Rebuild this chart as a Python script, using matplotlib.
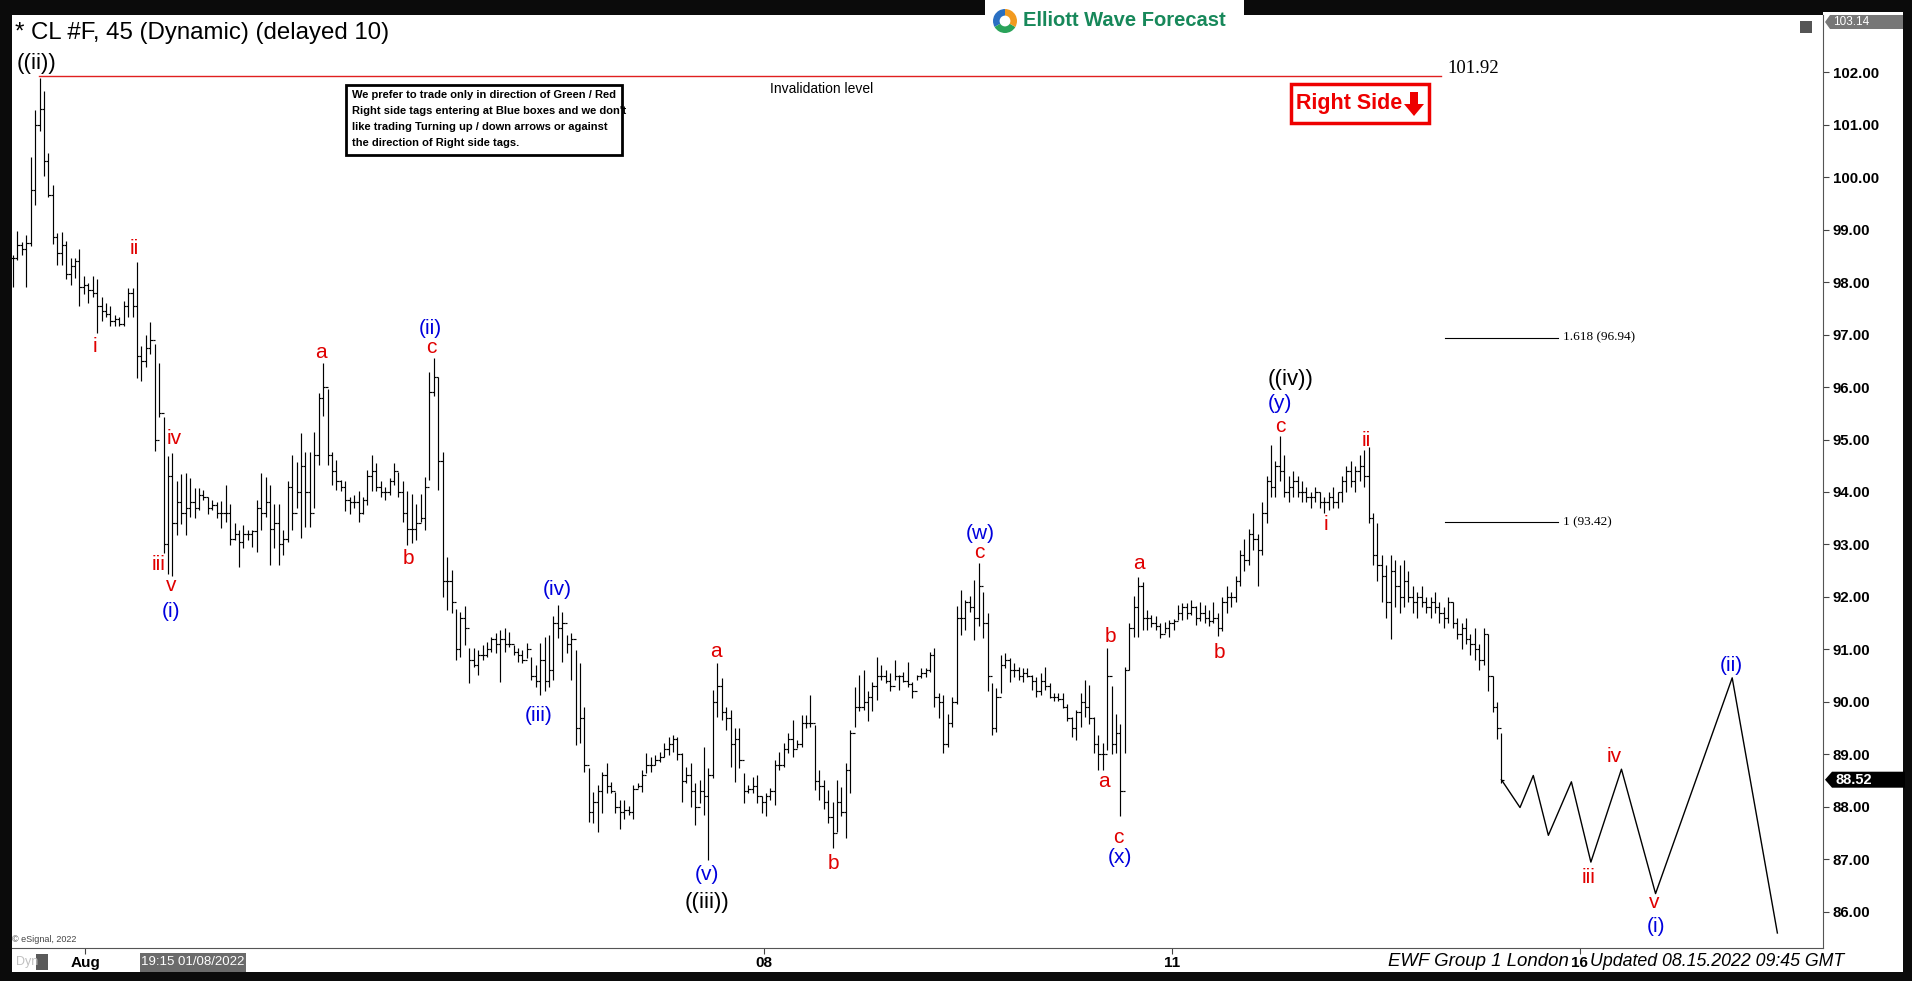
import matplotlib
matplotlib.use("Agg")
import matplotlib.pyplot as plt
from matplotlib.patches import Rectangle, Polygon, Wedge, Circle
from matplotlib import font_manager

plt.rcParams['font.family'] = ['Liberation Sans', 'DejaVu Sans']

names = {f.name for f in font_manager.fontManager.ttflist}
narrow = 'Liberation Sans Narrow' if 'Liberation Sans Narrow' in names else 'Liberation Sans'

# 45 min bars of CL #F, (high, low, close)
bars_aug1 = [
    (98.52, 97.91, 98.45), (98.98, 98.42, 98.70), (98.76, 98.52, 98.62), (98.90, 97.91, 98.75),
    (100.39, 98.69, 99.75), (101.28, 99.47, 101.00), (101.89, 100.87, 101.30), (101.63, 100.02, 100.30),
    (100.46, 99.61, 99.65), (99.85, 98.73, 98.85), (98.93, 98.32, 98.55), (98.96, 98.32, 98.70),
    (98.79, 98.05, 98.15), (98.45, 97.94, 98.30), (98.45, 98.08, 98.40), (98.62, 97.54, 97.90),
    (98.11, 97.77, 97.95), (97.98, 97.60, 97.85), (98.11, 97.71, 97.80),
    (98.05, 97.03, 97.55), (97.71, 97.26, 97.45), (97.60, 97.33, 97.40), (97.54, 97.16, 97.25),
    (97.37, 97.16, 97.30), (97.33, 97.16, 97.20), (97.64, 97.16, 97.55), (97.88, 97.33, 97.80),
    (97.88, 97.33, 97.55), (98.39, 96.17, 96.60), (96.79, 96.11, 96.50), (96.99, 96.38, 96.75),
    (97.23, 96.62, 96.90), (96.82, 94.78, 95.00), (96.45, 95.43, 95.50),
    (95.43, 92.84, 93.00), (94.68, 92.43, 94.30), (94.75, 92.40, 93.40), (94.20, 93.18, 93.80),
    (94.34, 93.39, 93.60), (94.37, 93.18, 93.70), (94.27, 93.52, 93.80),
]
bars_aug2 = [
    (94.07, 93.50, 93.70), (94.07, 93.66, 93.95), (94.04, 93.85, 93.90), (93.91, 93.59, 93.70),
    (93.85, 93.66, 93.75), (93.80, 93.50, 93.60),
    (93.82, 93.31, 93.60), (94.13, 93.43, 93.60), (93.78, 92.99, 93.10), (93.40, 93.09, 93.20),
    (93.28, 92.58, 93.05), (93.37, 92.93, 93.20), (93.28, 93.09, 93.20), (93.28, 92.96, 93.25),
    (93.85, 92.86, 93.70), (94.36, 93.28, 93.60), (94.29, 93.53, 93.80), (94.13, 92.61, 93.30),
    (93.78, 92.93, 93.40), (93.78, 92.61, 93.00), (93.28, 92.80, 93.10), (94.20, 93.05, 94.10),
    (94.70, 93.28, 93.60), (94.58, 93.69, 94.00), (95.12, 93.12, 94.50), (94.77, 93.34, 94.00),
    (94.77, 93.34, 93.60), (95.15, 93.69, 94.70), (95.88, 94.51, 95.80), (96.45, 95.44, 96.00),
    (95.97, 94.51, 94.70), (94.77, 94.13, 94.40), (94.61, 94.04, 94.20), (94.23, 94.01, 94.10),
    (94.20, 93.63, 93.85), (93.91, 93.59, 93.80), (93.94, 93.69, 93.80), (94.01, 93.43, 93.60),
    (93.91, 93.59, 93.85), (94.42, 93.75, 94.30), (94.70, 94.01, 94.40), (94.55, 94.01, 94.10),
    (94.20, 93.91, 94.00), (94.10, 93.85, 94.00), (94.26, 93.94, 94.20), (94.55, 94.13, 94.40),
    (94.39, 93.91, 94.00), (94.20, 93.43, 93.60), (94.01, 92.99, 93.30), (93.97, 93.02, 93.30),
    (93.78, 93.09, 93.40), (93.97, 93.43, 93.50), (94.29, 93.28, 94.10), (96.29, 94.23, 95.90),
    (96.55, 95.82, 96.20), (96.20, 94.04, 94.60), (94.77, 92.00, 92.30), (92.77, 91.75, 92.30),
    (92.51, 91.69, 91.90),
]
bars_aug4 = [
    (91.78, 90.80, 91.00), (91.72, 90.86, 91.60), (91.82, 91.09, 91.40), (91.02, 90.36, 90.80),
    (91.02, 90.67, 90.70), (90.99, 90.51, 90.90), (91.09, 90.80, 90.90), (91.15, 90.86, 91.00),
    (91.24, 90.96, 91.20), (91.31, 90.93, 91.10), (91.37, 90.39, 91.20), (91.40, 90.96, 91.10),
    (91.34, 91.05, 91.10), (91.09, 90.89, 90.95), (91.02, 90.77, 90.90), (90.99, 90.74, 90.80),
    (91.12, 90.83, 91.00), (90.86, 90.42, 90.50), (90.71, 90.29, 90.40), (91.12, 90.13, 90.80),
    (91.24, 90.20, 90.40), (91.28, 90.29, 90.60), (91.63, 90.42, 91.50), (91.85, 91.21, 91.40),
    (91.72, 90.77, 91.50), (91.28, 90.93, 91.10), (91.31, 90.42, 91.20), (90.99, 89.18, 89.50),
    (90.74, 89.21, 89.70), (89.91, 88.67, 88.80), (88.74, 87.72, 87.90), (88.29, 87.69, 88.10),
    (88.42, 87.53, 88.30), (88.67, 87.88, 88.60), (88.83, 88.26, 88.40), (88.48, 88.26, 88.30),
    (88.29, 87.88, 88.00), (88.13, 87.59, 87.90), (88.13, 87.78, 87.95), (88.01, 87.85, 87.90),
    (88.42, 87.78, 88.35), (88.45, 88.36, 88.40), (88.70, 88.29, 88.60), (89.02, 88.64, 88.80),
    (88.96, 88.67, 88.80), (88.99, 88.80, 88.90), (89.05, 88.86, 88.95), (89.21, 88.96, 89.10),
    (89.34, 88.99, 89.20), (89.37, 89.05, 89.30), (89.34, 88.89, 89.00), (89.02, 88.10, 88.50),
    (88.77, 88.45, 88.60), (88.83, 88.00, 88.30), (88.45, 87.66, 88.00), (88.51, 88.07, 88.30),
    (89.15, 87.85, 88.20), (88.74, 86.99, 88.60), (90.23, 88.55, 90.00), (90.74, 89.72, 90.30),
    (90.45, 89.66, 89.80), (89.91, 89.47, 89.70), (89.85, 88.77, 89.20), (89.50, 88.48, 89.30),
    (89.50, 88.74, 88.90), (88.64, 88.07, 88.30), (88.42, 88.26, 88.35), (88.58, 88.26, 88.40),
]
bars_aug8 = [
    (88.61, 88.07, 88.20), (88.20, 87.88, 88.10), (88.26, 87.82, 88.20), (88.36, 88.13, 88.30),
    (88.89, 88.04, 88.80), (89.05, 88.70, 88.80), (89.21, 88.77, 89.10), (89.40, 89.02, 89.30),
    (89.66, 88.96, 89.10), (89.27, 89.12, 89.20), (89.75, 89.15, 89.60), (89.75, 89.50, 89.60),
    (90.13, 89.53, 89.60), (89.56, 88.32, 88.50), (88.70, 88.13, 88.40), (88.51, 87.97, 88.10),
    (88.32, 87.69, 87.80), (88.10, 87.21, 87.50), (88.51, 87.53, 88.10), (88.39, 87.82, 87.90),
    (88.83, 87.40, 88.70), (89.47, 88.26, 89.40), (90.29, 89.53, 89.90), (90.51, 89.82, 89.90),
    (90.61, 89.85, 90.00), (90.20, 89.63, 90.10), (90.39, 89.82, 90.30), (90.86, 90.04, 90.50),
    (90.71, 90.42, 90.50), (90.61, 90.36, 90.40), (90.55, 90.20, 90.30), (90.80, 90.42, 90.50),
    (90.51, 90.23, 90.50), (90.58, 90.39, 90.40),
    (90.77, 90.29, 90.35), (90.39, 90.07, 90.20), (90.51, 90.42, 90.50), (90.64, 90.45, 90.55),
    (90.64, 90.48, 90.60), (90.96, 90.58, 90.90), (91.02, 89.91, 90.10),
    (90.17, 89.69, 90.00), (90.13, 89.02, 89.20), (89.78, 89.15, 89.60), (90.10, 89.53, 90.00),
    (91.82, 89.97, 91.60), (92.13, 91.28, 91.60), (91.94, 91.37, 91.90), (92.01, 91.72, 91.80),
    (92.32, 91.18, 91.60), (92.65, 91.44, 92.20), (92.10, 91.21, 91.50), (91.69, 90.20, 90.50),
    (90.36, 89.37, 89.50), (90.26, 89.43, 90.10), (90.89, 90.17, 90.70), (90.93, 90.64, 90.80),
    (90.83, 90.39, 90.60), (90.74, 90.48, 90.60), (90.67, 90.42, 90.50), (90.64, 90.39, 90.55),
    (90.64, 90.48, 90.50), (90.51, 90.23, 90.40),
]
bars_aug10 = [
    (90.48, 90.10, 90.20), (90.55, 90.13, 90.40), (90.67, 90.23, 90.30), (90.36, 90.07, 90.10),
    (90.17, 90.01, 90.10), (90.17, 90.01, 90.05), (90.17, 89.88, 89.90), (89.97, 89.63, 89.70),
    (89.72, 89.34, 89.50), (89.85, 89.28, 89.80), (90.17, 89.53, 90.00), (90.42, 89.72, 89.90),
    (90.32, 89.59, 89.70), (89.72, 89.02, 89.20), (89.37, 88.70, 89.00), (89.21, 88.70, 89.00),
    (91.02, 89.08, 90.50), (90.30, 89.00, 89.20), (89.78, 89.02, 89.40), (89.59, 87.82, 88.30),
    (90.67, 89.02, 90.60), (91.50, 90.61, 91.40), (92.01, 91.24, 91.80), (92.39, 91.24, 92.20),
    (92.29, 91.37, 91.60), (91.75, 91.37, 91.60), (91.66, 91.43, 91.50), (91.63, 91.37, 91.45),
    (91.50, 91.21, 91.30), (91.53, 91.31, 91.40), (91.56, 91.24, 91.50), (91.59, 91.37, 91.55),
    (91.85, 91.56, 91.70), (91.88, 91.56, 91.80), (91.88, 91.59, 91.70), (91.94, 91.66, 91.80),
    (91.82, 91.47, 91.60),
]
bars_aug11 = [
    (91.90, 91.55, 91.70), (91.85, 91.50, 91.60), (91.75, 91.45, 91.55),
    (91.90, 91.50, 91.60), (91.70, 91.25, 91.40), (92.00, 91.35, 91.90), (92.20, 91.70, 92.00),
    (92.10, 91.80, 92.00), (92.40, 91.90, 92.30), (92.90, 92.20, 92.80), (93.10, 92.50, 92.70),
    (93.30, 92.60, 93.20), (93.60, 92.90, 93.10), (93.20, 92.20, 92.90), (93.80, 92.80, 93.60),
    (94.30, 93.40, 94.20), (94.90, 93.90, 94.10), (94.60, 93.90, 94.50), (95.06, 94.20, 94.40),
    (94.70, 93.90, 94.00), (94.30, 93.80, 94.10), (94.40, 93.90, 94.20), (94.30, 93.90, 94.00),
    (94.20, 93.80, 94.00), (94.10, 93.80, 93.90), (94.00, 93.70, 93.90), (94.10, 93.80, 94.00),
    (94.00, 93.70, 93.80), (93.90, 93.60, 93.80), (94.00, 93.65, 93.90), (94.10, 93.70, 93.80),
    (94.00, 93.70, 94.00), (94.30, 93.80, 94.20), (94.50, 94.00, 94.40), (94.60, 94.10, 94.20),
    (94.50, 94.00, 94.40), (94.70, 94.20, 94.50), (94.80, 94.10, 94.30), (94.85, 93.40, 93.50),
    (93.60, 92.60, 92.80), (93.40, 92.30, 92.60), (92.80, 91.90, 92.40), (92.60, 91.60, 91.90),
    (92.80, 91.20, 92.50), (92.70, 91.80, 92.20), (92.60, 91.70, 92.00), (92.70, 91.80, 92.30),
    (92.50, 91.90, 92.00), (92.20, 91.70, 91.90), (92.10, 91.60, 92.00), (92.20, 91.80, 91.90),
    (92.00, 91.70, 91.80), (92.00, 91.60, 91.90), (92.10, 91.70, 91.80), (91.90, 91.50, 91.70),
    (91.80, 91.40, 91.60), (92.00, 91.50, 91.90), (91.90, 91.40, 91.50), (91.60, 91.20, 91.30),
    (91.50, 91.00, 91.40), (91.60, 91.10, 91.20), (91.30, 90.90, 91.10), (91.40, 90.80, 91.00),
    (91.10, 90.60, 90.80), (91.40, 90.70, 91.30), (91.30, 90.20, 90.50), (90.50, 89.80, 89.90),
    (90.00, 89.30, 89.50), (89.40, 88.45, 88.52),
]

# projected path (bar position, price)
proj_x = [336, 340.2, 343.2, 346.6, 351.8, 356.2, 363.1, 370.8, 388.1, 398.3]
proj_y = [88.52, 87.99, 88.60, 87.46, 88.48, 86.95, 88.72, 86.35, 90.46, 85.60]

invalidation = 101.92
fib_levels = [(96.94, '1.618 (96.94)'), (93.42, '1 (93.42)')]
date_ticks = [16.3, 169.5, 261.6, 353.7]
date_labels = ['Aug', '08', '11', '16']
price_ticks = list(range(86, 103))
last_price = 88.52
top_price = 103.14

RED = '#e00000'
BLUE = '#0000dd'
wave_labels = [
    ('((ii))', 5.3, 102.16, 'black', 16), ('i', 18.5, 96.77, RED, 15), ('ii', 27.3, 98.63, RED, 15),
    ('iii', 32.8, 92.62, RED, 15), ('iv', 36.4, 95.01, RED, 15), ('v', 35.6, 92.22, RED, 15),
    ('(i)', 35.6, 91.73, BLUE, 15), ('a', 69.5, 96.66, RED, 15), ('b', 89.3, 92.73, RED, 15),
    ('(ii)', 94.2, 97.12, BLUE, 15), ('c', 94.5, 96.75, RED, 15), ('(iii)', 118.7, 89.74, BLUE, 15),
    ('(iv)', 122.9, 92.15, BLUE, 15), ('a', 158.6, 90.97, RED, 15), ('(v)', 156.7, 86.72, BLUE, 15),
    ('((iii))', 156.7, 86.19, 'black', 16), ('b', 185.1, 86.93, RED, 15), ('(w)', 218.4, 93.20, BLUE, 15),
    ('c', 218.1, 92.85, RED, 15), ('a', 246.2, 88.48, RED, 15), ('b', 247.8, 91.25, RED, 15),
    ('c', 249.5, 87.42, RED, 15), ('(x)', 249.8, 87.04, BLUE, 15), ('a', 254.2, 92.64, RED, 15),
    ('b', 272.3, 90.95, RED, 15), ('((iv))', 288.3, 96.15, 'black', 16), ('(y)', 286.1, 95.68, BLUE, 15),
    ('c', 286.1, 95.24, RED, 15), ('i', 296.3, 93.38, RED, 15), ('ii', 305.6, 94.99, RED, 15),
    ('iii', 355.7, 86.65, RED, 15), ('iv', 361.5, 88.97, RED, 15), ('v', 370.6, 86.19, RED, 15),
    ('(i)', 370.9, 85.72, BLUE, 15), ('(ii)', 387.9, 90.69, BLUE, 15),
]

bars = bars_aug1 + bars_aug2 + bars_aug4 + bars_aug8 + bars_aug10 + bars_aug11
highs = [b[0] for b in bars]
lows = [b[1] for b in bars]
closes = [b[2] for b in bars]
opens = [closes[0]] + closes[:-1]
xs = list(range(len(bars)))

W, H = 1912, 981
fig = plt.figure(figsize=(W / 100, H / 100), dpi=100, facecolor='#0b0b0b')


def fx(px):
    return px / W


def fy(py):
    return 1 - py / H


# white panels for price scale and time scale
fig.add_artist(Rectangle((fx(1823), fy(972)), fx(1903) - fx(1823), fy(12) - fy(972),
                         transform=fig.transFigure, facecolor='white', edgecolor='none', zorder=0))
fig.add_artist(Rectangle((fx(12), fy(972)), fx(1823) - fx(12), fy(948) - fy(972),
                         transform=fig.transFigure, facecolor='white', edgecolor='none', zorder=0))
fig.add_artist(Rectangle((fx(985), fy(15)), fx(1244) - fx(985), fy(0) - fy(15),
                         transform=fig.transFigure, facecolor='white', edgecolor='none', zorder=0))

ax = fig.add_axes([fx(12), fy(948), fx(1823) - fx(12), fy(15) - fy(948)])
ax.set_facecolor('white')
ax.set_xlim(-0.23, 408.6)
ax.set_ylim(85.314, 103.086)

# OHLC bars
ax.vlines(xs, lows, highs, color='black', lw=0.85)
ax.hlines(opens, [x - 0.5 for x in xs], xs, color='black', lw=0.85)
ax.hlines(closes, xs, [x + 0.5 for x in xs], color='black', lw=0.85)

# projection
ax.plot(proj_x, proj_y, color='black', lw=1.0)

# invalidation level
ax.plot([5.8, 322.3], [invalidation, invalidation], color='#e02020', lw=1.0)
ax.text(323.7, 102.07, '101.92', family='Liberation Serif', fontsize=13.5, va='center', ha='left')
ax.text(182.5, 101.67, 'Invalidation level', fontsize=10, va='center', ha='center')

for lvl, txt in fib_levels:
    ax.plot([323.2, 348.8], [lvl, lvl], color='black', lw=0.8)
    ax.text(350.0, lvl, txt, family='Liberation Serif', fontsize=9.5, va='center', ha='left')

for txt, x, y, col, fs in wave_labels:
    ax.text(x, y, txt, color=col, fontsize=fs, ha='center', va='center')

# axes styling
for side in ['top', 'left']:
    ax.spines[side].set_visible(False)
ax.spines['bottom'].set_color('#555555')
ax.spines['right'].set_color('#555555')
ax.yaxis.tick_right()
ax.set_yticks(price_ticks)
ax.set_yticklabels(['%.2f' % p for p in price_ticks], fontsize=10.8, fontweight='bold')
ax.tick_params(axis='y', length=4, pad=3, color='#444444')
ax.set_xticks(date_ticks)
ax.set_xticklabels(date_labels, fontsize=11, fontweight='bold')
ax.tick_params(axis='x', length=4, pad=2, color='#444444')

# header texts
fig.text(fx(15), fy(33), '* CL #F, 45 (Dynamic) (delayed 10)', fontsize=17.3, va='center', ha='left')

# note box
fig.add_artist(Rectangle((fx(346), fy(155)), fx(622) - fx(346), fy(85) - fy(155),
                         transform=fig.transFigure, facecolor='white', edgecolor='black', lw=2.0, zorder=3))
note_lines = ["We prefer to trade only in direction of Green / Red",
              "Right side tags entering at Blue boxes and we don't",
              "like trading Turning up / down arrows or against",
              "the direction of Right side tags."]
for k, line in enumerate(note_lines):
    fig.text(fx(352), fy(95 + 16 * k), line, family=narrow, fontsize=8, fontweight='bold',
             va='center', ha='left', zorder=4)

# Right Side tag
fig.add_artist(Rectangle((fx(1291), fy(123)), fx(1429) - fx(1291), fy(84) - fy(123),
                         transform=fig.transFigure, facecolor='white', edgecolor='#ee0000', lw=2.5, zorder=3))
fig.text(fx(1296), fy(104), 'Right Side', family=narrow, color='#ee0000', fontsize=15.5,
         fontweight='bold', va='center', ha='left', zorder=4)
arrow = [(1410, 92), (1418, 92), (1418, 104), (1424, 104), (1414, 116), (1404, 104), (1410, 104)]
fig.add_artist(Polygon([(fx(a), fy(b)) for a, b in arrow], closed=True, transform=fig.transFigure,
                       facecolor='#ee0000', edgecolor='none', zorder=4))

# logo
lax = fig.add_axes([fx(993), fy(33), fx(24), fy(0) - fy(24)])
lax.set_xlim(-1, 1)
lax.set_ylim(-1, 1)
lax.set_aspect('equal')
lax.axis('off')
lax.add_patch(Wedge((0, 0), 1, 90, 210, facecolor='#2a6fc2'))
lax.add_patch(Wedge((0, 0), 1, 210, 330, facecolor='#2aa35a'))
lax.add_patch(Wedge((0, 0), 1, 330, 450, facecolor='#f29a1f'))
lax.add_patch(Circle((0, 0), 0.45, facecolor='white'))
fig.text(fx(1023), fy(21), 'Elliott Wave Forecast', color='#17885a', fontsize=14.5,
         fontweight='bold', va='center', ha='left')

# small window icon
fig.add_artist(Rectangle((fx(1800), fy(33)), fx(12), fy(0) - fy(12), transform=fig.transFigure,
                         facecolor='#555555', edgecolor='none'))

# price markers
top_box = [(1825, 22), (1830, 15), (1903, 15), (1903, 29), (1830, 29)]
fig.add_artist(Polygon([(fx(a), fy(b)) for a, b in top_box], closed=True, transform=fig.transFigure,
                       facecolor='#777777', edgecolor='none'))
fig.text(fx(1833), fy(22), '%.2f' % top_price, color='white', fontsize=8.5, va='center', ha='left')
yl = 72 + (102 - last_price) * 52.5
last_box = [(1825, yl), (1832, yl - 8), (1905, yl - 8), (1905, yl + 8), (1832, yl + 8)]
fig.add_artist(Polygon([(fx(a), fy(b)) for a, b in last_box], closed=True, transform=fig.transFigure,
                       facecolor='black', edgecolor='none'))
fig.text(fx(1836), fy(yl), '%.2f' % last_price, color='white', fontsize=10.5, fontweight='bold',
         va='center', ha='left')

# bottom strip
fig.text(fx(12), fy(939), '\u00a9 eSignal, 2022', color='#444444', fontsize=6.5, va='center', ha='left')
fig.text(fx(16), fy(962), 'Dyn', color='#c0c0c0', fontsize=9, va='center', ha='left')
fig.add_artist(Rectangle((fx(36), fy(970)), fx(12), fy(0) - fy(16), transform=fig.transFigure,
                         facecolor='#5a5a5a', edgecolor='none'))
fig.add_artist(Rectangle((fx(140), fy(972)), fx(106), fy(0) - fy(19), transform=fig.transFigure,
                         facecolor='#6b6b6b', edgecolor='none'))
fig.text(fx(193), fy(962), '19:15 01/08/2022', color='white', fontsize=9.5, va='center', ha='center')
fig.text(fx(1569), fy(961), 'EWF Group 1 London', fontsize=13.4, style='italic', va='center', ha='right')
fig.text(fx(1590), fy(961), 'Updated 08.15.2022 09:45 GMT', fontsize=12.8, style='italic',
         va='center', ha='left')

fig.savefig('out.png', dpi=100, facecolor=fig.get_facecolor())
